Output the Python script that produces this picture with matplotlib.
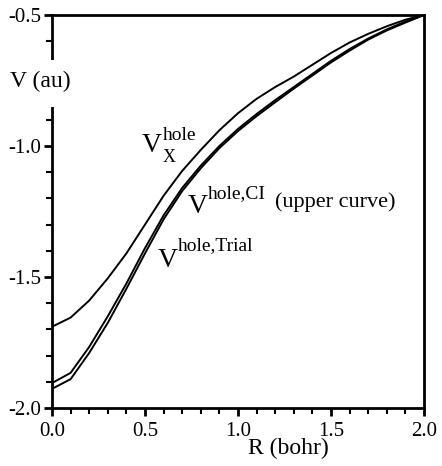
import numpy as np
import matplotlib
matplotlib.use('Agg')
from matplotlib import pyplot as plt
from matplotlib.ticker import MultipleLocator
from matplotlib.patches import Rectangle

# data
R = [0.0, 0.1, 0.2, 0.3, 0.4, 0.5, 0.6, 0.7, 0.8, 0.9, 1.0,
     1.1, 1.2, 1.3, 1.4, 1.5, 1.6, 1.7, 1.8, 1.9, 2.0]
v_x = [-1.69, -1.655, -1.59, -1.505, -1.41, -1.30, -1.19, -1.095, -1.015, -0.94, -0.875,
       -0.82, -0.775, -0.735, -0.69, -0.645, -0.605, -0.572, -0.543, -0.518, -0.50]
v_ci = [-1.905, -1.866, -1.767, -1.65, -1.525, -1.39, -1.265, -1.16, -1.075, -1.0, -0.935,
        -0.878, -0.825, -0.775, -0.725, -0.675, -0.63, -0.59, -0.555, -0.525, -0.50]
v_trial = [-1.927, -1.89, -1.79, -1.675, -1.545, -1.41, -1.28, -1.172, -1.085, -1.008, -0.943,
           -0.886, -0.833, -0.781, -0.731, -0.681, -0.636, -0.594, -0.559, -0.529, -0.50]

plt.rcParams['font.family'] = ['Liberation Serif', 'DejaVu Serif']

fig = plt.figure(figsize=(4.42, 4.66), dpi=100)
ax = fig.add_axes([0.1176, 0.1245, 0.8416, 0.8433])

ax.plot(R, v_x, color='k', lw=1.4)
ax.plot(R, v_ci, color='k', lw=1.4)
ax.plot(R, v_trial, color='k', lw=1.4)

ax.set_xlim(0, 2)
ax.set_ylim(-2.0, -0.5)
ax.xaxis.set_major_locator(MultipleLocator(0.5))
ax.xaxis.set_minor_locator(MultipleLocator(0.1))
ax.yaxis.set_major_locator(MultipleLocator(0.5))
ax.yaxis.set_minor_locator(MultipleLocator(0.1))
ax.xaxis.set_major_formatter(plt.FuncFormatter(lambda v, p: '%.1f' % v))
ax.yaxis.set_major_formatter(plt.FuncFormatter(lambda v, p: '%.1f' % v))

for s in ax.spines.values():
    s.set_linewidth(2)
ax.tick_params(which='major', direction='out', length=6, width=2, labelsize=15)
ax.tick_params(axis='x', which='major', pad=4)
ax.tick_params(axis='y', which='major', pad=2)
ax.tick_params(which='minor', direction='out', length=4, width=1.5)
ax.tick_params(top=False, right=False)

# x label (sits between 1.0 and 1.5 in the original)
ax.text(1.27, -2.176, 'R (bohr)', fontsize=17, ha='center', va='baseline', clip_on=False)

# y label breaking the left axis
ax.add_patch(Rectangle((-0.07, -0.851), 0.11, 0.179, facecolor='white', edgecolor='none',
                       clip_on=False, zorder=5))
ax.text(-0.226, -0.775, 'V (au)', fontsize=17, ha='left', va='baseline',
        clip_on=False, zorder=10)

# curve labels
ax.text(0.485, -1.023, 'V', fontsize=20, va='baseline')
ax.text(0.595, -0.978, 'hole', fontsize=14, va='baseline')
ax.text(0.595, -1.06, 'X', fontsize=13, va='baseline')

ax.text(0.731, -1.256, 'V', fontsize=20, va='baseline')
ax.text(0.839, -1.198, 'hole,CI', fontsize=14, va='baseline')
ax.text(1.199, -1.233, '(upper curve)', fontsize=16, va='baseline')

ax.text(0.570, -1.462, 'V', fontsize=20, va='baseline')
ax.text(0.677, -1.397, 'hole,Trial', fontsize=14, va='baseline')

plt.savefig('out.png', dpi=100)
